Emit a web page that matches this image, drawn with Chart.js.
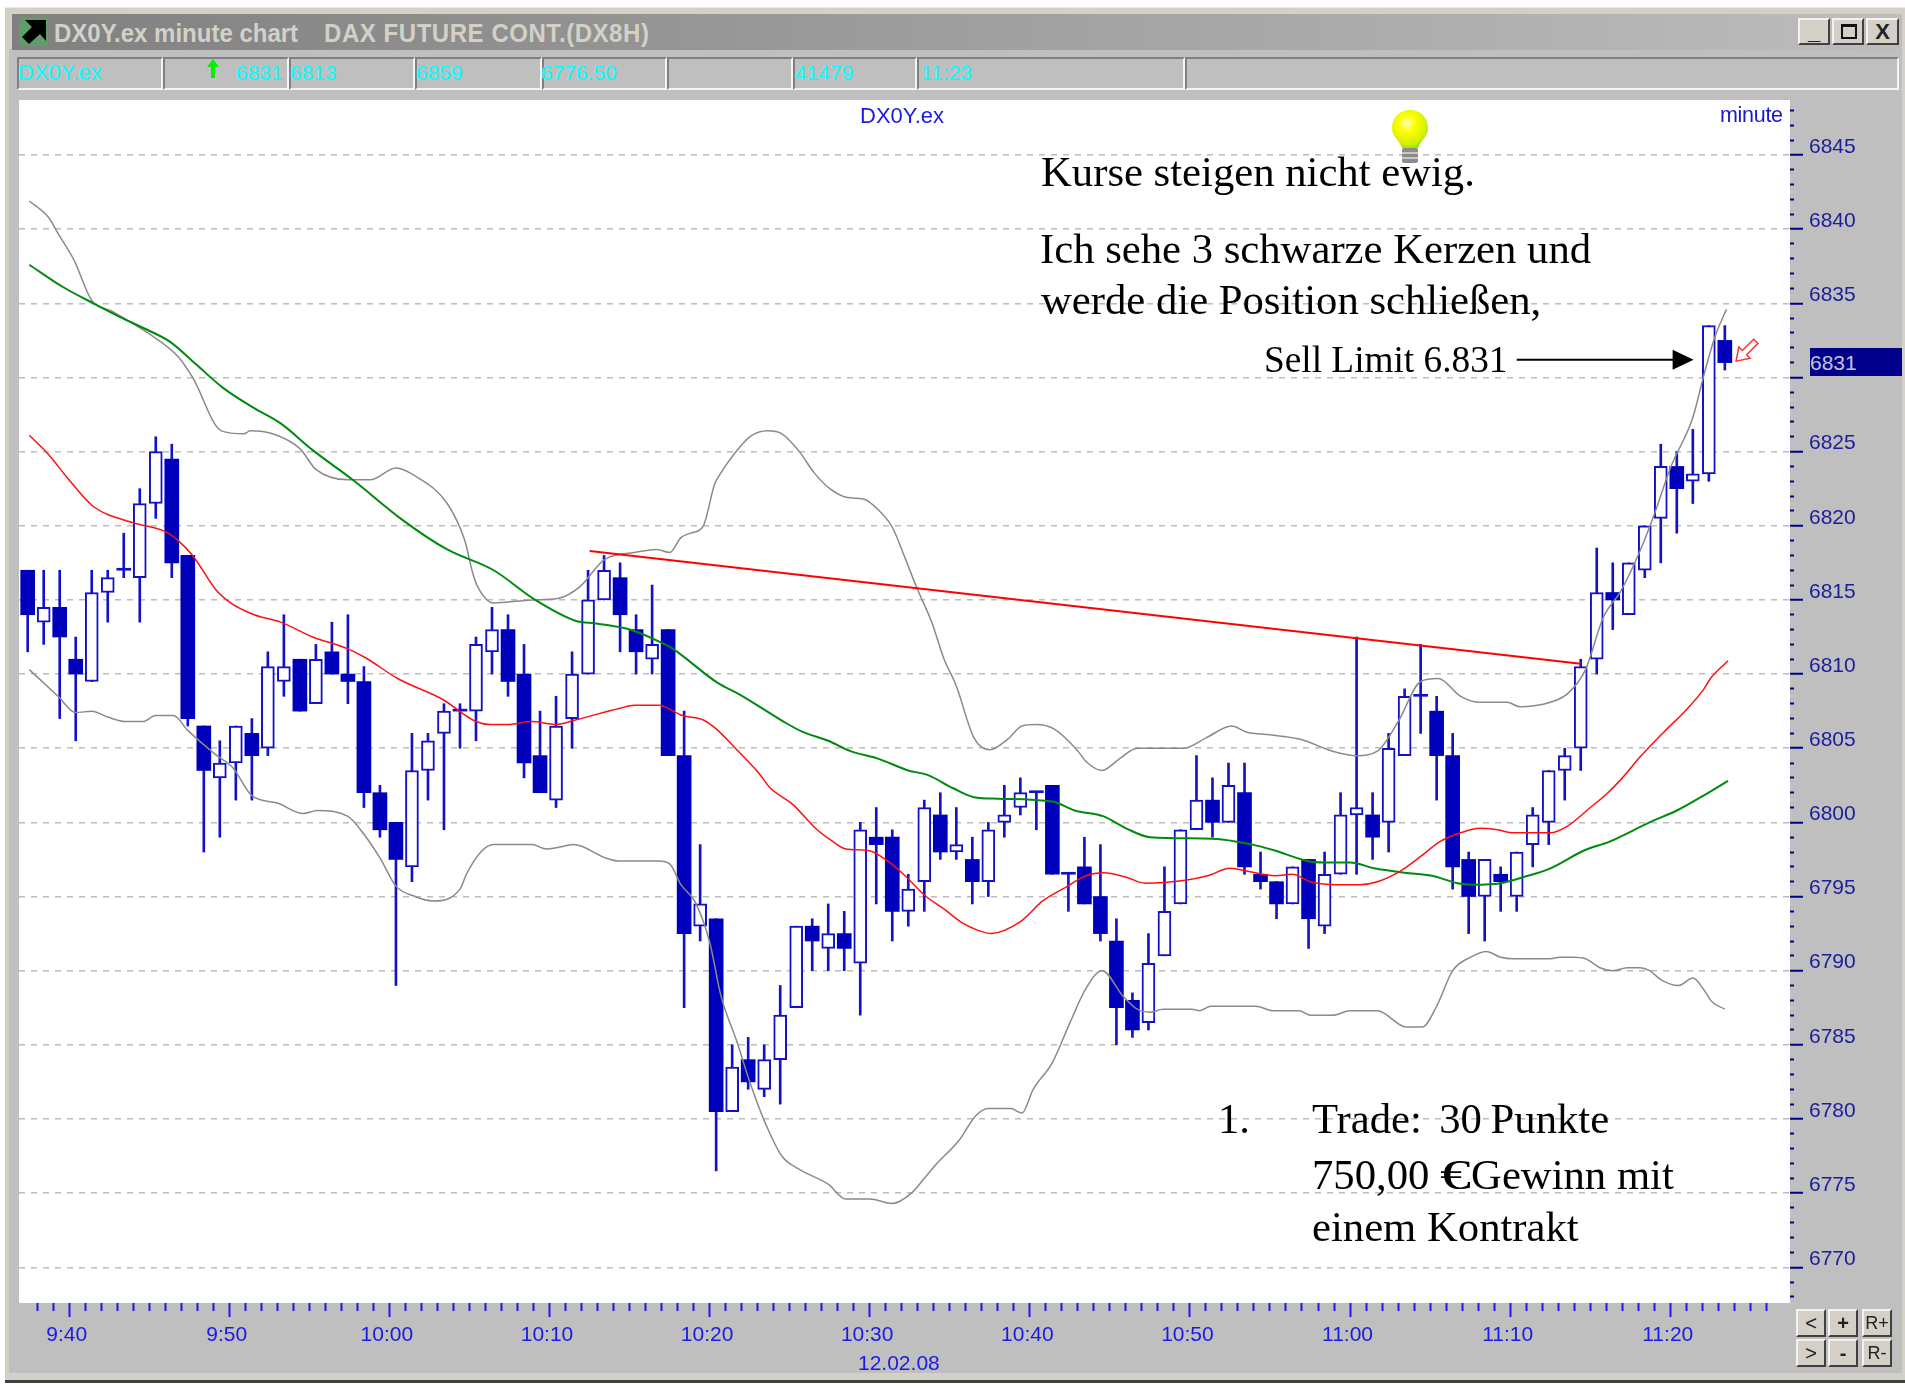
<!DOCTYPE html>
<html lang="de">
<head>
<meta charset="utf-8">
<title>DX0Y.ex minute chart</title>
<script src="https://cdn.jsdelivr.net/npm/chart.js@4/dist/chart.umd.min.js"></script>
<style>
html,body{margin:0;padding:0;background:#fff;width:1905px;height:1389px;overflow:hidden}
.a{position:absolute;box-sizing:border-box}
.t{position:absolute;white-space:pre;line-height:1}
.serif{font-family:"Liberation Serif",serif;color:#000;font-size:42.7px}
.cy{font-family:"Liberation Sans",sans-serif;color:#00ffff;font-size:21px}
.cell{position:absolute;top:57px;height:33px;box-sizing:border-box;border-top:2px solid #808080;border-left:2px solid #808080;border-bottom:2px solid #f4f4f4;border-right:2px solid #f4f4f4}
.btn{position:absolute;box-sizing:border-box;background:#d4d0c8;border-top:2px solid #f4f2ee;border-left:2px solid #f4f2ee;border-right:2px solid #404040;border-bottom:2px solid #404040;font-family:"Liberation Sans",sans-serif;color:#222;text-align:center}
canvas{position:absolute;left:0;top:0}
</style>
</head>
<body>
<div class="a" style="left:5px;top:7px;width:1900px;height:1376px;background:#d4d0c8;border-bottom:3px solid #404040;border-top:1px solid #eeeae2"></div>
<div class="a" style="left:9px;top:49px;width:1893px;height:1324px;background:#bfbfbf"></div>
<div class="a" style="left:12px;top:14px;width:1890px;height:36px;background:linear-gradient(90deg,#808080,#bdbdbd)"></div>
<svg class="a" style="left:19px;top:17px" width="29" height="29" viewBox="0 0 29 29"><rect width="29" height="29" rx="3" fill="#5f9e68"/><path d="M6 3 H27 V24 L21 17 L10 27 L3 20 L13 10 Z" fill="#000"/></svg>
<div class="t" style="left:54px;top:19px;font:bold 24px 'Liberation Sans',sans-serif;color:#d4d0c8;transform:scaleY(1.1);transform-origin:left center">DX0Y.ex minute chart</div>
<div class="t" style="left:324px;top:19px;font:bold 24px 'Liberation Sans',sans-serif;color:#d4d0c8;letter-spacing:.55px;transform:scaleY(1.1);transform-origin:left center">DAX FUTURE CONT.(DX8H)</div>
<div class="btn" style="left:1798px;top:18px;width:32px;height:27px;font-size:22px;line-height:24px;font-weight:bold">_</div>
<div class="btn" style="left:1832px;top:18px;width:32px;height:27px"><div class="a" style="left:7px;top:4px;width:16px;height:15px;border:2px solid #111;border-top-width:3px"></div></div>
<div class="btn" style="left:1866px;top:18px;width:33px;height:27px;font-size:22px;line-height:23px;font-weight:bold">X</div>

<div class="cell" style="left:17px;width:146px"></div>
<div class="cell" style="left:163px;width:126px"></div>
<div class="cell" style="left:289px;width:126px"></div>
<div class="cell" style="left:415px;width:127px"></div>
<div class="cell" style="left:542px;width:125px"></div>
<div class="cell" style="left:667px;width:126px"></div>
<div class="cell" style="left:793px;width:124px"></div>
<div class="cell" style="left:917px;width:268px"></div>
<div class="cell" style="left:1185px;width:714px"></div>
<div class="t cy" style="left:18px;top:62px;font-size:22px">DX0Y.ex</div>
<svg class="a" style="left:206px;top:59px" width="14" height="20" viewBox="0 0 14 20"><path d="M7 0 L13 8 H9 V19 H5 V8 H1 Z" fill="#00f000"/></svg>
<div class="t cy" style="left:236px;top:62px">6831</div>
<div class="t cy" style="left:290px;top:62px">6813</div>
<div class="t cy" style="left:416px;top:62px">6859</div>
<div class="t cy" style="left:541px;top:62px">6776.50</div>
<div class="t cy" style="left:795px;top:62px">41479</div>
<div class="t cy" style="left:921px;top:62px">11:23</div>

<div class="a" style="left:19px;top:100px;width:1771px;height:1203px;background:#fff"></div>
<canvas id="chart" width="1905" height="1389"></canvas>

<div class="t" style="left:860px;top:103px;font:22px 'Liberation Sans',sans-serif;color:#1a1ae6">DX0Y.ex</div>
<div class="t" style="left:1720px;top:103px;font:21.5px 'Liberation Sans',sans-serif;color:#1a1ac8;letter-spacing:-.3px">minute</div>
<div class="t" style="left:858px;top:1351px;font:21px 'Liberation Sans',sans-serif;color:#1a1ae6">12.02.08</div>

<svg class="a" style="left:1388px;top:108px" width="44" height="58" viewBox="0 0 44 58">
<defs><radialGradient id="bulb" cx="0.42" cy="0.35" r="0.75"><stop offset="0" stop-color="#ffffc8"/><stop offset="0.3" stop-color="#ffff00"/><stop offset="0.7" stop-color="#d8f000"/><stop offset="1" stop-color="#70e000"/></radialGradient></defs>
<path d="M22 2 C33 2 40 10 40 20 C40 29 32 33 30 40 H14 C12 33 4 29 4 20 C4 10 11 2 22 2 Z" fill="url(#bulb)"/>
<rect x="14" y="40" width="16" height="15" rx="2" fill="#8c8c8c"/><rect x="14" y="44" width="16" height="2" fill="#c8c8c8"/><rect x="14" y="49" width="16" height="2" fill="#c8c8c8"/>
</svg>

<div class="t serif" style="left:1041px;top:151px">Kurse steigen nicht ewig.</div>
<div class="t serif" style="left:1040px;top:228px">Ich sehe 3 schwarze Kerzen und</div>
<div class="t serif" style="left:1041px;top:279px">werde die Position schließen,</div>
<div class="t serif" style="left:1264px;top:341px;font-size:37.3px">Sell Limit 6.831</div>
<div class="t serif" style="left:1218px;top:1098px">1.</div>
<div class="t serif" style="left:1312px;top:1098px;word-spacing:-2px">Trade:  30 Punkte</div>
<div class="t serif" style="left:1312px;top:1154px">750,00 <span style="display:inline-block;width:31px;transform:scaleX(1.45);transform-origin:left center">€</span>Gewinn mit</div>
<div class="t serif" style="left:1312px;top:1206px">einem Kontrakt</div>

<div class="a" style="left:1810px;top:348px;width:92px;height:28px;background:#00008b"></div>
<div class="t" style="left:1810px;top:351px;font:21px 'Liberation Sans',sans-serif;color:#c4c4d4">6831</div>

<div class="btn" style="left:1796px;top:1309px;width:30px;height:28px;font-size:20px;line-height:24px">&lt;</div>
<div class="btn" style="left:1828px;top:1309px;width:30px;height:28px;font-size:20px;line-height:24px;font-weight:bold">+</div>
<div class="btn" style="left:1862px;top:1309px;width:30px;height:28px;font-size:18px;line-height:24px">R+</div>
<div class="btn" style="left:1796px;top:1339px;width:30px;height:28px;font-size:20px;line-height:24px">&gt;</div>
<div class="btn" style="left:1828px;top:1339px;width:30px;height:28px;font-size:20px;line-height:24px;font-weight:bold">-</div>
<div class="btn" style="left:1862px;top:1339px;width:30px;height:28px;font-size:18px;line-height:24px">R-</div>

<script>
// ---- chart values ----
const opens  = [6817,6813.5,6814.5,6811,6809.5,6815.5,6817,6816.5,6821.5,6824.5,6818,6806.5,6803,6804,6806,6805,6809.5,6811,6808,6811.5,6810,6809.5,6802,6800,6797,6803.5,6806,6807.5,6807.5,6811.5,6813,6810,6804.5,6801.5,6807,6810,6815,6816.5,6813,6811,6813,6804.5,6793,6793.5,6780.5,6784,6782,6784,6787.5,6793,6791.5,6792.5,6790.5,6799,6799,6794,6796,6800.5,6798,6797.5,6796,6800,6801,6802,6802.5,6796.5,6797,6795,6792,6788,6786.5,6791,6794.5,6799.5,6801.5,6800,6802,6796.5,6796,6794.5,6797.5,6793,6796.5,6800.5,6800.5,6800,6804.5,6808.5,6807.5,6804.5,6797.5,6795,6796.5,6795,6798.5,6800,6803.5,6805,6811,6815.5,6814,6817,6820.5,6824,6823,6823.5,6832.5];
const highs  = [6817,6817,6817,6812.5,6817,6817,6819.5,6822.5,6826,6825.5,6818,6806.5,6805.5,6806.5,6807,6811.5,6814,6811,6812,6813.5,6814,6810.5,6802.5,6800,6806,6806,6808,6808,6812.5,6814.5,6814,6812,6807.5,6808.5,6811.5,6817,6818,6817.5,6814,6816,6813,6807.5,6798.5,6793.5,6785,6785.5,6785,6789,6793,6793.5,6794.5,6794,6800,6801,6799.5,6796.5,6801.5,6802,6801,6799,6800,6802.5,6803,6802,6802.5,6796.5,6799,6798.5,6793.5,6788.5,6792.5,6797,6799.5,6804.5,6803,6804,6804,6798,6796,6797,6797.5,6798,6802,6812.5,6802,6806,6809,6812,6808.5,6806,6798,6797.5,6797,6798,6801,6803.5,6805,6811,6818.5,6817.5,6817.5,6820,6825.5,6825,6826.5,6833.5,6833.5];
const lows   = [6811.5,6812,6807,6805.5,6809.5,6813.5,6816.5,6813.5,6820.5,6816.5,6806.5,6798,6799,6801.5,6801.5,6804.5,6808.5,6807.5,6808,6810,6808,6801,6799,6789,6796,6801.5,6799.5,6805,6805.5,6810,6808.5,6803,6802,6801,6805,6810,6815,6811.5,6810,6810,6804.5,6787.5,6792,6776.5,6780.5,6782,6781.5,6781,6787.5,6790,6790,6790,6787,6794.5,6792,6793,6794,6797.5,6797.5,6794.5,6795,6799,6800.5,6799.5,6796.5,6794,6794.5,6792,6785,6785.5,6786,6791,6794.5,6799.5,6799,6800,6796.5,6795.5,6793.5,6794.5,6791.5,6792.5,6796.5,6796.5,6797.5,6798,6804.5,6806,6801.5,6795.5,6792.5,6792,6794,6794,6797,6798.5,6801.5,6803.5,6810,6813,6814,6816.5,6817.5,6819.5,6821.5,6823,6830.5];
const closes = [6814,6814.5,6812.5,6810,6815.5,6816.5,6817,6821.5,6825,6817.5,6807,6803.5,6804,6806.5,6804.5,6810.5,6810.5,6807.5,6811,6810,6809.5,6802,6799.5,6797.5,6803.5,6805.5,6807.5,6807.5,6812,6813,6809.5,6804,6802,6806.5,6810,6815,6817,6814,6811.5,6812,6804.5,6792.5,6794.5,6780.5,6783.5,6782.5,6784,6787,6793,6792,6792.5,6791.5,6799.5,6798.5,6794,6795.5,6801,6798,6798.5,6796,6799.5,6800.5,6802,6802,6796.5,6796.5,6794.5,6792.5,6787.5,6786,6790.5,6794,6799.5,6801.5,6800,6802.5,6797,6796,6794.5,6797,6793.5,6796.5,6800.5,6801,6799,6805,6808.5,6808.5,6804.5,6797,6795,6797.5,6796,6798,6800.5,6803.5,6804.5,6810.5,6815.5,6815,6817.5,6820,6824,6822.5,6823.5,6833.5,6831];

const upperX = [0.1,1.3,1.9,2.9,4,5.2,7.5,9.4,10.3,12.1,13.5,13.9,15.3,17,18,20,21.4,23,24.3,26.2,27.3,27.8,28.1,29.1,31.5,33.1,34.5,36,37.9,39.3,40.1,40.8,41.4,42.2,42.9,43.2,44.1,45.1,46.2,47.1,48.2,49.1,50.1,51.2,52.2,53.1,54,54.7,55.5,56.5,57.2,58,59.1,60.1,61.2,62.1,63,64.1,65.6,66.1,67.1,68.2,69.3,72.2,73.6,75.2,76.1,77.6,79.5,81.5,83,84.3,85.6,87,88.1,89.5,90.7,92.4,93.2,95.1,96.2,97.3,98.4,99.5,100.7,101.6,102.6,104,104.7,105.4,106.1];
const upperY = [6841.9,6840.8,6839.7,6837.9,6835.2,6834.5,6833,6831.4,6830,6826.4,6826.2,6826.4,6826.2,6825.2,6823.8,6823.1,6823.1,6823.9,6823.3,6821.5,6819,6816.8,6815.9,6814.8,6815,6815.1,6815.9,6817.7,6818.2,6818.4,6818.2,6819.2,6819.5,6820,6822.8,6823.4,6824.8,6826,6826.4,6826.2,6825,6823.6,6822.5,6821.9,6821.8,6821.1,6819.9,6818.1,6815.9,6813.4,6811.1,6809.2,6805.7,6804.9,6805.6,6806.5,6806.6,6806.3,6804.8,6804.1,6803.5,6804.3,6805,6805,6805.7,6806.5,6806.1,6805.9,6805.6,6804.8,6804.5,6804.8,6806.8,6809.5,6809.7,6808.5,6808.1,6808.1,6807.8,6808.1,6808.7,6810.3,6813.8,6815.6,6818.3,6820.8,6823.9,6827.3,6830.2,6832.8,6834.6];

const lowerX = [0.1,1.9,3,4,5,6.1,7.2,8,9.1,10,11.7,12.8,14,15.6,17.2,18.1,20,21,22,23,24.2,25.3,27,27.4,28.3,29.1,31.5,32.4,33.1,34.1,36.1,36.9,39.4,40.1,40.8,41.7,42.6,43.3,44.3,45.1,46,47.1,48.2,50,51.1,52.6,54,55.2,56,56.7,58.2,59.2,60,61.4,62.1,62.8,64,65.1,66.1,67.1,68.4,69.3,70.1,70.9,72.7,73.2,73.9,76.7,77.8,79.4,80.1,81.5,82.6,84.3,86.1,87.1,88,89,90.1,91.1,92,92.8,95.1,95.7,96.5,97.3,98.2,99,99.9,100.7,101.3,102,103.1,104,104.7,105.2,106];
const lowerY = [6810.3,6808.5,6807.4,6807.5,6807.1,6806.8,6806.8,6807.2,6807.2,6806.2,6804.6,6803.7,6801.8,6801.3,6800.6,6800.8,6800.4,6799.2,6797.6,6795.7,6795,6794.7,6795.5,6796.5,6798,6798.5,6798.5,6798.2,6798.3,6798.5,6797.6,6797.4,6797.4,6797.2,6795.8,6794.6,6791.9,6788.3,6785.2,6782.5,6779.9,6777.5,6776.6,6775.6,6774.6,6774.6,6774.3,6775,6776,6776.9,6778.6,6780.2,6780.7,6780.7,6780.4,6782,6783.8,6786.5,6788.8,6790,6788.3,6787.4,6787.2,6787.4,6787.4,6787.3,6787.6,6787.6,6787.3,6787.3,6787,6787,6787.3,6787.3,6786.2,6786.2,6787.6,6790,6790.9,6791.3,6790.9,6790.8,6790.8,6790.9,6790.9,6790.8,6790.2,6790,6790.2,6790.2,6790,6789.4,6789,6789.5,6788.7,6787.9,6787.4];

const redX = [0.1,1.3,2.5,4.1,6.6,8.6,9.4,10.3,11.9,13.9,15.8,17.8,20,21.1,23.1,25.9,28,28.9,30,31.5,33,34.2,37,37.9,39.4,40.9,42.2,43,44.2,45.6,46.4,47.8,49.2,50.3,51.1,52.5,53.7,54.8,56,57.3,58.4,59.4,60.2,62,63.4,64.8,66.1,67.2,68.6,69.8,72.3,73.7,75.1,76.2,77.9,79,80.1,81.8,83.2,84.3,85.7,87,88.2,89.5,90.7,91.8,92.8,95.1,96.1,97.6,98.7,99.6,100.7,102.2,103.6,104.7,105.1,106.2];
const redY = [6826.1,6824.8,6823.2,6821.3,6820.2,6819.6,6819,6818,6815.5,6814.1,6813.5,6812.5,6811.7,6811.1,6809.7,6808.3,6806.8,6806.6,6806.6,6806.8,6806.6,6806.9,6807.7,6807.9,6807.9,6807.2,6806.9,6806.3,6805,6803.4,6802.3,6801.2,6799.6,6798.7,6798.2,6798.1,6797.4,6796.4,6795.1,6794.1,6793.2,6792.7,6792.5,6793.3,6794.7,6795.6,6796.4,6796.6,6796.3,6795.9,6796.1,6796.4,6796.9,6796.7,6796.4,6796.5,6796,6795.8,6795.8,6796,6796.7,6797.7,6798.7,6799.3,6799.6,6799.5,6799.3,6799.3,6799.7,6801,6802,6803,6804.4,6806.1,6807.6,6809,6809.7,6810.9];

const greenX = [0.1,2.2,4.1,6.1,7.5,8.9,10.5,12.2,14.2,15.8,17.8,20.3,23.4,26.2,29.1,31.7,34.2,35.6,37.6,39.8,40.3,43.1,44.5,47.2,48.4,50,51.4,53.1,55,56.2,57.8,59.1,60.6,64,65.4,67.2,68.6,70.1,74,76.5,77.9,79.9,81,82.6,84.1,86,87.7,89.3,90.3,92,93.4,95.1,97.2,98.8,101.3,103,104.5,106.2];
const greenY = [6837.6,6836.1,6835,6833.9,6833.2,6832.4,6830.9,6829.3,6827.9,6826.9,6825.1,6823.1,6820.4,6818.4,6817,6815,6813.6,6813.4,6813,6812,6811.7,6809.4,6808.6,6806.8,6806.1,6805.5,6804.8,6804.3,6803.5,6803.2,6802.3,6801.7,6801.6,6801.4,6800.8,6800.4,6799.6,6799,6798.9,6798.5,6798.1,6797.4,6797.3,6797.3,6796.9,6796.6,6796.4,6795.9,6795.8,6795.9,6796.3,6796.9,6798.1,6798.7,6800,6800.8,6801.7,6802.8];

const trendX = [35.1,97];
const trendY = [6818.3,6810.7];

const priceLabels = [6770,6775,6780,6785,6790,6795,6800,6805,6810,6815,6820,6825,6830,6835,6840,6845];
const priceMinor  = [6768,6769,6771,6772,6773,6774,6776,6777,6778,6779,6781,6782,6783,6784,6786,6787,6788,6789,6791,6792,6793,6794,6796,6797,6798,6799,6801,6802,6803,6804,6806,6807,6808,6809,6811,6812,6813,6814,6816,6817,6818,6819,6821,6822,6823,6824,6826,6827,6828,6829,6831,6832,6833,6834,6836,6837,6838,6839,6841,6842,6843,6844,6846,6847,6848];
const timeLabels  = ['9:40','9:50','10:00','10:10','10:20','10:30','10:40','10:50','11:00','11:10','11:20'];
const timeMajor   = [0,10,20,30,40,50,60,70,80,90,100];     // minutes after 9:40
const timeMinor   = [-2,-1,1,2,3,4,5,6,7,8,9,11,12,13,14,15,16,17,18,19,21,22,23,24,25,26,27,28,29,31,32,33,34,35,36,37,38,39,41,42,43,44,45,46,47,48,49,51,52,53,54,55,56,57,58,59,61,62,63,64,65,66,67,68,69,71,72,73,74,75,76,77,78,79,81,82,83,84,85,86,87,88,89,91,92,93,94,95,96,97,98,99,101,102,103,104,105,106];
const firstBarMinutes = -2.59;  // the time axis of the reference sits a little off its candles

// ---- datasets ----
const toBar = t => t - firstBarMinutes;
const idx = opens.map((_, i) => i);
const blue = '#1212c8', fill = '#0000bc';
const pairs = (xs, ys) => xs.map((x, i) => ({x, y: ys[i]}));
const line = (xs, ys, color, w, order) => ({type:'line', data:pairs(xs, ys), borderColor:color, borderWidth:w,
  pointRadius:0, cubicInterpolationMode:'monotone', fill:false, order, borderJoinStyle:'round'});
const bar = (ids, range, o) => Object.assign({type:'bar', grouped:false, borderSkipped:false,
  data:ids.map(i => ({x:i, y:range(i)}))}, o);

const datasets = [
  bar(idx, i => [lows[i], highs[i]], {barThickness:2, backgroundColor:blue, borderWidth:0, order:13}),
  bar(idx.filter(i => closes[i] > opens[i]), i => [opens[i], closes[i]], {barThickness:13, backgroundColor:'#fff', borderColor:blue, borderWidth:2, order:12}),
  bar(idx.filter(i => closes[i] < opens[i]), i => [closes[i], opens[i]], {barThickness:14, backgroundColor:fill, borderWidth:0, order:11}),
  bar(idx.filter(i => closes[i] === opens[i]), i => [opens[i], closes[i]], {barThickness:14, backgroundColor:blue, borderWidth:0, minBarLength:2, order:11}),
  line(upperX, upperY, '#8a8a8a', 1.5, 4),
  line(lowerX, lowerY, '#8a8a8a', 1.5, 4),
  line(greenX, greenY, '#008a10', 2, 3),
  line(redX, redY, '#ff1010', 1.5, 2),
  line(trendX, trendY, '#ff0000', 2, 1)
];

// arrows of the annotation, placed through the chart's scales
const annotationArrows = {
  id:'annotationArrows',
  afterDatasetsDraw(c){
    const {x, y} = c.scales, g = c.ctx;
    const x1 = x.getPixelForValue(93), x2 = x.getPixelForValue(104.05), yy = y.getPixelForValue(6831.2);
    g.save();
    g.strokeStyle = '#000'; g.fillStyle = '#000'; g.lineWidth = 2;
    g.beginPath(); g.moveTo(x1, yy); g.lineTo(x2-15, yy); g.stroke();
    g.beginPath(); g.moveTo(x2, yy); g.lineTo(x2-21, yy-10); g.lineTo(x2-21, yy+10); g.closePath(); g.fill();
    const tx = x.getPixelForValue(106.7), ty = y.getPixelForValue(6831.1);
    g.translate(tx, ty); g.rotate(-Math.PI/4);
    g.strokeStyle = '#ff3030'; g.fillStyle = '#fff'; g.lineWidth = 1.5;
    g.beginPath(); g.moveTo(0,0); g.lineTo(12,-8); g.lineTo(12,-3); g.lineTo(28,-3); g.lineTo(28,3); g.lineTo(12,3); g.lineTo(12,8); g.closePath(); g.fill(); g.stroke();
    g.restore();
  }
};

const xMin = -0.543, xMax = 110.07, yMin = 6767.59, yMax = 6848.71;
const setTicks = arr => s => { s.ticks = arr.map(v => ({value:v})); };

new Chart(document.getElementById('chart'), {
  type:'bar',
  data:{datasets},
  plugins:[annotationArrows],
  options:{
    responsive:false, animation:false,
    layout:{padding:{left:19, top:100, right:0, bottom:0}},
    plugins:{legend:{display:false}, title:{display:false}, tooltip:{enabled:false}},
    scales:{
      xMinor:{axis:'x', type:'linear', position:'bottom', weight:-1, min:xMin, max:xMax, offset:false,
        border:{display:false}, grid:{offset:false, drawOnChartArea:false, tickLength:8, tickWidth:2, tickColor:'#1a1ae6'},
        ticks:{display:false, autoSkip:false}, afterBuildTicks:setTicks(timeMinor.map(toBar)), afterFit(s){s.height=0;}},
      x:{type:'linear', position:'bottom', weight:0, min:xMin, max:xMax, offset:false,
        border:{display:false}, grid:{offset:false, drawOnChartArea:false, tickLength:14, tickWidth:2, tickColor:'#1a1ae6'},
        ticks:{autoSkip:false, maxRotation:0, minRotation:0, padding:6, labelOffset:-2.5, color:'#1a1ae6', font:{family:'Liberation Sans', size:21},
          callback(v){ const i = timeMajor.map(toBar).findIndex(m => Math.abs(m-v) < 1e-6); return i < 0 ? '' : timeLabels[i]; }},
        afterBuildTicks:setTicks(timeMajor.map(toBar)), afterFit(s){s.height=86;}},
      yMinor:{axis:'y', type:'linear', position:'right', weight:-1, min:yMin, max:yMax,
        border:{display:false}, grid:{drawOnChartArea:false, tickLength:4, tickWidth:2, tickColor:'#00008b'},
        ticks:{display:false, autoSkip:false}, afterBuildTicks:setTicks(priceMinor), afterFit(s){s.width=0;}},
      y:{type:'linear', position:'right', weight:0, min:yMin, max:yMax, beginAtZero:false,
        border:{display:false, dash:[6,6]}, grid:{color:'#bcbcbc', lineWidth:1.5, tickLength:13, tickWidth:2, tickColor:'#00008b', tickBorderDash:[]},
        ticks:{autoSkip:false, padding:6, labelOffset:-8, color:'#1c1c9c', font:{family:'Liberation Sans', size:21}, callback:v => String(v)},
        afterBuildTicks:setTicks(priceLabels), afterFit(s){s.width=115;}}
    }
  }
});
</script>
</body>
</html>
